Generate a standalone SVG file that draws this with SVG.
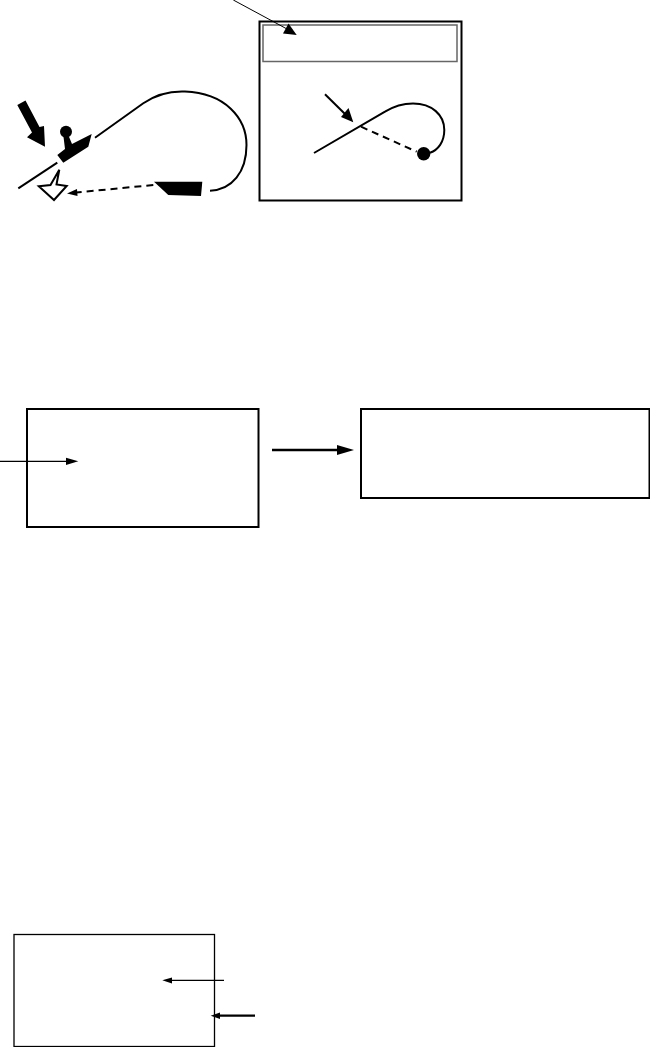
<svg xmlns="http://www.w3.org/2000/svg" width="650" height="1047" viewBox="0 0 650 1047">
<style>
.box{fill:#fff;stroke:#000;stroke-width:2}
.ln{fill:none;stroke:#000;stroke-width:2}
.thin{fill:none;stroke:#000;stroke-width:1.200}
.lnb{fill:none;stroke:#000;stroke-width:2.300}
.d{stroke-dasharray:7 5}
.k{fill:#000;stroke:none}
</style>
<rect width="650" height="1047" fill="#fff"/>
<g id="node-scene-left">
<polygon class="k" points="17.300,105 25.500,100.500 39.500,127 44,126 45,146.700 27,137.300 32,132.500"/>
<circle class="k" cx="66" cy="131.700" r="6"/>
<polygon class="k" points="57.300,155 65,149 63.500,136.700 69,136.700 72,144 91.700,134 88.300,146.700 63.300,162.700"/>
<polygon points="59.300,169.800 50.500,185 38.800,186.300 54,200 66.700,186 56.500,184.500" fill="#fff" stroke="#000" stroke-width="2"/>
<polygon class="k" points="154,181.700 202.300,181.700 201,196 168.300,195"/>
</g>
<g id="node-panel">
<rect class="box" x="259.500" y="21.500" width="202" height="179"/>
<rect x="263" y="25" width="194" height="36.500" fill="#fff" stroke="#666" stroke-width="1.500"/>
<circle class="k" cx="423.700" cy="153.700" r="6.700"/>
</g>
<g id="node-box-middle-left"><rect class="box" x="27" y="409" width="231.500" height="118"/></g>
<g id="node-box-middle-right"><rect class="box" x="361" y="409" width="288.500" height="89"/></g>
<g id="node-box-bottom"><rect x="14" y="934.500" width="200.500" height="112" fill="#fff" stroke="#000" stroke-width="1.300"/></g>
<g id="connectors">
<path class="ln" d="M18.300 188.300L57.300 162.700"/>
<path class="ln" d="M95 137.700L143.300 103.300C158 93 172 91 185 91.500C225 93 246.500 118 246.500 145C246.500 172 232 190 210 190.700"/>
<path class="ln d" d="M153.300 185L76 192.500"/>
<polygon class="k" points="67,193.400 77,189 77.500,196"/>
<path d="M233.300 0L287 29" fill="none" stroke="#000" stroke-width="1"/>
<polygon class="k" points="296.700,35 283,33.500 288.500,23.500"/>
<path class="ln" d="M325 94.300L345 114"/>
<polygon class="k" points="353.300,122.300 341,117 348.500,108"/>
<path class="ln" d="M314 153L385 111.700C395 105.500 405 103.500 413 103.500C432 103.500 444.300 115 444.300 130C444.300 142 438 150 430 152.700"/>
<path class="ln d" d="M361 126.700L416.700 151.700"/>
<path class="thin" d="M0 461.300H68"/>
<polygon class="k" points="78.300,461.300 66,457.700 66,465"/>
<path class="lnb" d="M272 450H340"/>
<polygon class="k" points="354,450 337,445 337,455"/>
<path class="thin" d="M224 980.300H171"/>
<polygon class="k" points="162.300,980.300 172,977.500 172,983.500"/>
<path class="lnb" d="M255 1015.700H220"/>
<polygon class="k" points="210.700,1015.700 220,1012.500 220,1019"/>
</g>
</svg>
